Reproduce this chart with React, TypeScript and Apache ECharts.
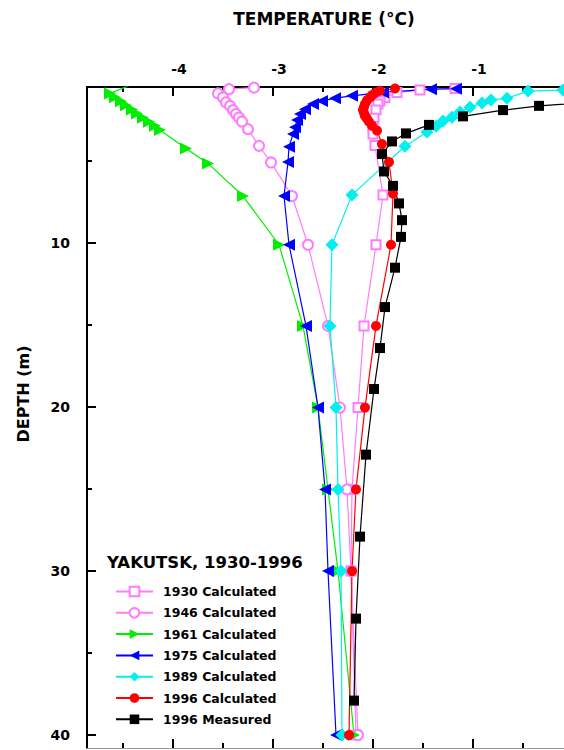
import React, { useEffect, useRef } from "react";
import * as echarts from "echarts";

// ---- Data (temperature °C, depth m) ----
const seriesNames = [
  "1930 Calculated",
  "1946 Calculated",
  "1961 Calculated",
  "1975 Calculated",
  "1989 Calculated",
  "1996 Calculated",
  "1996 Measured",
];

const depth1930 = [0.57, 0.67, 0.82, 1.12, 1.34, 1.52, 1.89, 2.38, 2.87, 3.35, 4.05, 7.07, 10.1, 15.05, 20.03, 25.02, 30.0, 40.0];
const temp1930 = [-1.18, -1.53, -1.76, -1.88, -1.93, -1.95, -1.97, -1.99, -2.0, -2.0, -1.98, -1.9, -1.97, -2.09, -2.15, -2.21, -2.22, -2.17];

const depth1946 = [0.52, 0.61, 0.87, 1.12, 1.42, 1.63, 1.89, 2.13, 2.34, 2.58, 3.05, 4.07, 5.08, 7.13, 10.1, 15.05, 20.03, 25.02, 30.0, 40.0];
const temp1946 = [-3.19, -3.44, -3.55, -3.5, -3.47, -3.43, -3.4, -3.37, -3.34, -3.31, -3.25, -3.14, -3.02, -2.81, -2.65, -2.45, -2.33, -2.26, -2.22, -2.15];

const depth1961 = [0.4, 0.87, 1.1, 1.35, 1.6, 1.85, 2.1, 2.35, 2.6, 2.85, 3.1, 4.23, 5.14, 7.13, 10.1, 15.05, 20.03, 25.02, 30.0, 40.0];
const temp1961 = [-4.44, -4.63, -4.58, -4.52, -4.47, -4.41, -4.36, -4.3, -4.24, -4.18, -4.13, -3.87, -3.65, -3.3, -2.94, -2.7, -2.55, -2.45, -2.35, -2.19];

const depth1975 = [0.58, 0.61, 0.81, 1.02, 1.16, 1.34, 1.52, 1.83, 2.13, 2.5, 2.93, 3.35, 4.13, 5.06, 7.13, 10.1, 15.05, 20.03, 25.02, 30.0, 40.0];
const temp1975 = [-1.17, -1.42, -1.9, -2.21, -2.38, -2.51, -2.6, -2.68, -2.73, -2.76, -2.78, -2.8, -2.84, -2.85, -2.89, -2.84, -2.67, -2.55, -2.48, -2.45, -2.37];

const depth1989 = [0.45, 0.67, 0.73, 1.16, 1.28, 1.46, 1.71, 2.01, 2.32, 2.56, 2.87, 3.23, 4.09, 7.06, 10.1, 15.05, 20.03, 25.02, 30.0, 40.0];
const temp1989 = [0.3, -0.1, -0.45, -0.66, -0.82, -0.91, -1.03, -1.13, -1.21, -1.3, -1.37, -1.46, -1.68, -2.21, -2.41, -2.43, -2.37, -2.35, -2.32, -2.31];

const depth1996c = [0.57, 0.71, 0.85, 0.98, 1.12, 1.3, 1.52, 1.7, 1.86, 2.07, 2.25, 2.41, 2.6, 2.84, 3.14, 3.96, 5.06, 6.98, 10.1, 15.05, 20.03, 25.02, 30.0, 40.0];
const temp1996c = [-1.78, -1.93, -1.98, -2.01, -2.03, -2.06, -2.08, -2.09, -2.1, -2.09, -2.08, -2.06, -2.04, -2.01, -1.96, -1.91, -1.84, -1.8, -1.82, -1.97, -2.08, -2.17, -2.21, -2.24];

const depth1996m = [1.4, 1.63, 1.89, 2.27, 2.79, 3.31, 3.8, 4.57, 5.63, 6.51, 7.58, 8.6, 9.62, 11.5, 13.9, 16.4, 18.9, 22.9, 27.9, 32.9, 37.9];
const temp1996m = [0.2, -0.34, -0.7, -1.1, -1.44, -1.67, -1.81, -1.91, -1.89, -1.8, -1.74, -1.71, -1.72, -1.78, -1.88, -1.93, -1.99, -2.07, -2.13, -2.17, -2.19];

// ---- Axis ticks ----
const xMajorTicks = [-4, -3, -2, -1];
const xMinorTicks = [-4.5, -3.5, -2.5, -1.5, -0.5];
const yMajorTicks = [10, 20, 30, 40];
const yMinorTicks = [5, 15, 25, 35];

const X_MIN = -4.86;
const X_MAX = -0.09;
const Y_MIN = 0.48;
const Y_MAX = 40.79;

const FONT = "DejaVu Sans";

function pairs(temps: number[], depths: number[]) {
  return depths.map((d, i) => [temps[i], d]);
}

export default function App() {
  const ref = useRef<HTMLDivElement>(null);

  useEffect(() => {
    if (!ref.current) return;
    const chart = echarts.init(ref.current, undefined, { renderer: "svg" });

    const mk = (
      name: string,
      temps: number[],
      depths: number[],
      color: string,
      symbol: string,
      size: number | number[],
      rotate: number,
      empty: boolean
    ) => ({
      type: "line",
      name,
      data: pairs(temps, depths),
      xAxisIndex: 0,
      yAxisIndex: 0,
      symbol,
      symbolSize: size,
      symbolRotate: rotate,
      showAllSymbol: true,
      clip: true,
      lineStyle: { color, width: 1.2 },
      itemStyle: empty
        ? { color, borderColor: color, borderWidth: 1.2 }
        : { color, borderWidth: 0 },
      emphasis: { disabled: true },
    });

    const axisBaseX = {
      type: "value",
      min: X_MIN,
      max: X_MAX,
      splitLine: { show: false },
    };
    const axisBaseY = {
      type: "value",
      min: Y_MIN,
      max: Y_MAX,
      inverse: true,
      splitLine: { show: false },
    };

    const option: any = {
      animation: false,
      backgroundColor: "#ffffff",
      grid: { left: 87, top: 87, right: 0, bottom: 2, containLabel: false },
      xAxis: [
        {
          ...axisBaseX,
          position: "top",
          axisLine: { show: true, lineStyle: { color: "#000", width: 2 } },
          axisTick: {
            show: true,
            inside: true,
            length: 9,
            customValues: xMajorTicks,
            lineStyle: { color: "#000", width: 2 },
          },
          axisLabel: {
            show: true,
            customValues: xMajorTicks,
            formatter: (v: number) => String(v),
            margin: 11,
            padding: [0, 0, 0, 12],
            fontFamily: FONT,
            fontWeight: "bold",
            fontSize: 14,
            color: "#000",
          },
        },
        {
          ...axisBaseX,
          position: "top",
          axisLine: { show: false },
          axisTick: {
            show: true,
            inside: true,
            length: 5,
            customValues: xMinorTicks,
            lineStyle: { color: "#000", width: 2 },
          },
          axisLabel: { show: false },
        },
        {
          ...axisBaseX,
          position: "bottom",
          axisLine: { show: true, lineStyle: { color: "#999", width: 1 } },
          axisTick: {
            show: true,
            inside: true,
            length: 9,
            customValues: xMajorTicks,
            lineStyle: { color: "#000", width: 2 },
          },
          axisLabel: { show: false },
        },
        {
          ...axisBaseX,
          position: "bottom",
          axisLine: { show: false },
          axisTick: {
            show: true,
            inside: true,
            length: 5,
            customValues: xMinorTicks,
            lineStyle: { color: "#000", width: 2 },
          },
          axisLabel: { show: false },
        },
      ],
      yAxis: [
        {
          ...axisBaseY,
          position: "left",
          axisLine: { show: true, lineStyle: { color: "#000", width: 2 } },
          axisTick: {
            show: true,
            inside: true,
            length: 9,
            customValues: yMajorTicks,
            lineStyle: { color: "#000", width: 2 },
          },
          axisLabel: {
            show: true,
            customValues: yMajorTicks,
            formatter: (v: number) => String(v),
            margin: 17,
            fontFamily: FONT,
            fontWeight: "bold",
            fontSize: 14,
            color: "#000",
          },
        },
        {
          ...axisBaseY,
          position: "left",
          axisLine: { show: false },
          axisTick: {
            show: true,
            inside: true,
            length: 5,
            customValues: yMinorTicks,
            lineStyle: { color: "#000", width: 2 },
          },
          axisLabel: { show: false },
        },
      ],
      legend: {
        orient: "vertical",
        left: 115,
        top: 585,
        itemWidth: 37,
        itemHeight: 12,
        itemGap: 8.3,
        padding: 0,
        selectedMode: false,
        data: seriesNames,
        textStyle: {
          fontFamily: FONT,
          fontWeight: "bold",
          fontSize: 12.5,
          color: "#000",
          padding: [0, 0, 0, 5],
        },
      },
      graphic: [
        {
          type: "text",
          x: 324,
          y: 19,
          style: {
            text: "TEMPERATURE (°C)",
            fontFamily: FONT,
            fontWeight: "bold",
            fontSize: 17,
            fill: "#000",
            align: "center",
            verticalAlign: "middle",
          },
        },
        {
          type: "text",
          x: 23,
          y: 394,
          rotation: Math.PI / 2,
          style: {
            text: "DEPTH (m)",
            fontFamily: FONT,
            fontWeight: "bold",
            fontSize: 16,
            fill: "#000",
            align: "center",
            verticalAlign: "middle",
          },
        },
        {
          type: "text",
          x: 107,
          y: 562,
          style: {
            text: "YAKUTSK, 1930-1996",
            fontFamily: FONT,
            fontWeight: "bold",
            fontSize: 16.5,
            fill: "#000",
            align: "left",
            verticalAlign: "middle",
          },
        },
      ],
      series: [
        mk(seriesNames[0], temp1930, depth1930, "#ff7cff", "emptyRect", 9, 0, true),
        mk(seriesNames[1], temp1946, depth1946, "#ff7cff", "emptyCircle", 10, 0, true),
        mk(seriesNames[2], temp1961, depth1961, "#00ee00", "triangle", 12, -90, false),
        mk(seriesNames[3], temp1975, depth1975, "#0000ff", "triangle", 12, 90, false),
        mk(seriesNames[4], temp1989, depth1989, "#00f0f0", "diamond", 13, 0, false),
        mk(seriesNames[5], temp1996c, depth1996c, "#ff0000", "circle", 10, 0, false),
        mk(seriesNames[6], temp1996m, depth1996m, "#000000", "rect", 10, 0, false),
      ],
    };

    chart.setOption(option);
    return () => chart.dispose();
  }, []);

  return (
    <div
      ref={ref}
      style={{ position: "absolute", left: 0, top: 0, width: 564, height: 750 }}
    />
  );
}
